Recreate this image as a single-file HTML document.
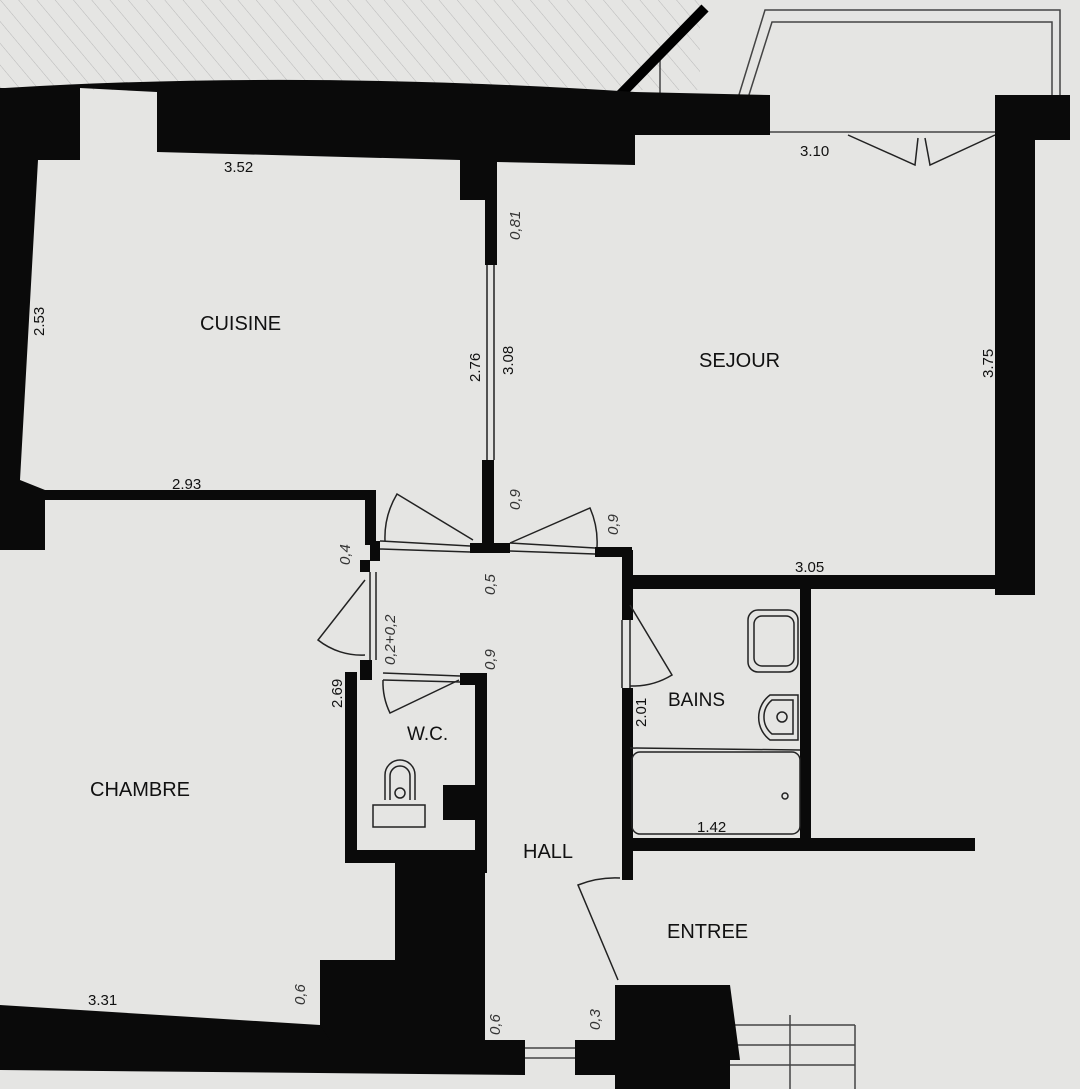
<!DOCTYPE html>
<html><head><style>
html,body{margin:0;padding:0;background:#e6e6e4;}
svg{display:block}
text{font-family:"Liberation Sans",sans-serif;fill:#111}
</style></head><body>
<svg width="1080" height="1089" viewBox="0 0 1080 1089" xmlns="http://www.w3.org/2000/svg">
<defs>
<pattern id="h" width="14" height="14" patternUnits="userSpaceOnUse" patternTransform="rotate(-40)">
<line x1="0" y1="0" x2="0" y2="14" stroke="#b8b8b8" stroke-width="1"/></pattern>
</defs>
<rect width="1080" height="1089" fill="#e5e5e3"/>
<rect x="0" y="0" width="700" height="90" fill="url(#h)"/>
<g stroke="#444" fill="none" stroke-width="1.5">
<polyline points="738,98 765,10 1060,10 1060,98"/>
<polyline points="748,98 772,22 1052,22 1052,98"/>
<line x1="770" y1="132" x2="995" y2="132"/>
<line x1="660" y1="60" x2="660" y2="95"/>
<line x1="730" y1="1025" x2="855" y2="1025"/><line x1="730" y1="1045" x2="855" y2="1045"/><line x1="730" y1="1065" x2="855" y2="1065"/>
<line x1="855" y1="1025" x2="855" y2="1089"/><line x1="790" y1="1015" x2="790" y2="1089"/>
<line x1="525" y1="1048" x2="575" y2="1048"/><line x1="525" y1="1058" x2="575" y2="1058"/>
</g>
<line x1="620" y1="95" x2="705" y2="8" stroke="#000" stroke-width="10"/>
<g fill="#0a0a0a">
<path d="M5,88 Q300,70 635,92 L770,95 L770,135 L635,135 L635,165 L497,162 L497,200 L460,200 L460,160 L157,152 L157,92 L80,88 L80,160 L38,160 L20,480 L45,490 L45,550 L0,550 L0,88Z"/>
<rect x="995" y="95" width="75" height="45"/>
<rect x="995" y="95" width="40" height="500"/>
<rect x="485" y="195" width="12" height="70"/>
<rect x="482" y="460" width="12" height="90"/>
<rect x="15" y="490" width="360" height="10"/>
<rect x="365" y="490" width="11" height="55"/>
<rect x="370" y="541" width="10" height="20"/>
<rect x="470" y="543" width="40" height="10"/>
<rect x="595" y="547" width="37" height="10"/>
<rect x="622" y="550" width="11" height="70"/>
<rect x="622" y="688" width="11" height="192"/>
<rect x="625" y="575" width="410" height="14"/>
<rect x="800" y="585" width="11" height="255"/>
<rect x="625" y="838" width="350" height="13"/>
<rect x="360" y="560" width="10" height="12"/>
<rect x="360" y="660" width="12" height="20"/>
<rect x="345" y="672" width="12" height="190"/>
<rect x="460" y="673" width="27" height="12"/>
<rect x="475" y="673" width="12" height="200"/>
<rect x="345" y="850" width="140" height="13"/>
<rect x="443" y="785" width="32" height="35"/>
<path d="M395,860 L485,860 L485,1040 L320,1040 L320,960 L395,960Z"/>
<path d="M0,1005 L320,1025 L330,1040 L485,1040 L525,1040 L525,1075 L0,1070Z"/>
<rect x="575" y="1040" width="45" height="35"/>
<path d="M615,985 L730,985 L740,1060 L730,1060 L730,1089 L615,1089Z"/>
</g>
<g stroke="#222" stroke-width="1.5" fill="none">
<line x1="487" y1="265" x2="487" y2="460"/><line x1="494" y1="265" x2="494" y2="460"/>
<line x1="380" y1="541" x2="470" y2="546"/><line x1="380" y1="549" x2="470" y2="552"/>
<line x1="510" y1="543" x2="595" y2="548"/><line x1="510" y1="551" x2="595" y2="554"/>
<line x1="370" y1="572" x2="370" y2="660"/><line x1="376" y1="572" x2="376" y2="660"/>
<line x1="622" y1="620" x2="622" y2="688"/><line x1="630" y1="620" x2="630" y2="688"/>
<line x1="383" y1="673" x2="460" y2="676"/><line x1="383" y1="680" x2="460" y2="682"/>
<path d="M473,540 L397,494 A85,85 0 0 0 385,541"/>
<path d="M510,543 L590,508 A85,85 0 0 1 597,547"/>
<path d="M365,580 L318,640 A70,70 0 0 0 365,655"/>
<path d="M630,605 L672,675 A75,75 0 0 1 630,686"/>
<path d="M459,680 L390,713 A70,70 0 0 1 383,680"/>
<path d="M618,980 L578,885 A100,100 0 0 1 620,878"/>
<path d="M848,135 L915,165 L918,138 M995,135 L930,165 L925,138"/>
<rect x="748" y="610" width="50" height="62" rx="10"/><rect x="754" y="616" width="40" height="50" rx="8"/>
<path d="M798,695 L770,695 A28,28 0 0 0 770,740 L798,740Z"/>
<path d="M793,700 L772,700 A22,22 0 0 0 772,734 L793,734Z"/><circle cx="782" cy="717" r="5"/>
<rect x="632" y="752" width="168" height="82" rx="8"/>
<line x1="630" y1="748" x2="800" y2="750"/>
<circle cx="785" cy="796" r="3"/>
<path d="M385,800 L385,775 A15,15 0 0 1 415,775 L415,800"/>
<path d="M390,800 L390,776 A10,10 0 0 1 410,776 L410,800"/>
<circle cx="400" cy="793" r="5"/>
<rect x="373" y="805" width="52" height="22"/>
</g>
<g font-size="20">
<text x="200" y="330">CUISINE</text>
<text x="699" y="367">SEJOUR</text>
<text x="90" y="796">CHAMBRE</text>
<text x="407" y="740" font-size="19">W.C.</text>
<text x="668" y="706" font-size="19">BAINS</text>
<text x="523" y="858">HALL</text>
<text x="667" y="938">ENTREE</text>
</g>
<g font-size="15">
<text x="224" y="172">3.52</text>
<text x="800" y="156">3.10</text>
<text x="172" y="489">2.93</text>
<text x="795" y="572">3.05</text>
<text x="697" y="832">1.42</text>
<text x="88" y="1005">3.31</text>
<text transform="translate(993,378) rotate(-90)">3.75</text>
<text transform="translate(480,382) rotate(-90)">2.76</text>
<text transform="translate(513,375) rotate(-90)">3.08</text>
<text transform="translate(44,336) rotate(-90)">2.53</text>
<text transform="translate(342,708) rotate(-90)">2.69</text>
<text transform="translate(646,727) rotate(-90)">2.01</text>
</g>
<g font-size="15" font-style="italic">
<text transform="translate(520,240) rotate(-90)" style="fill:#333">0,81</text>
<text transform="translate(520,510) rotate(-90)" style="fill:#333">0,9</text>
<text transform="translate(618,535) rotate(-90)" style="fill:#333">0,9</text>
<text transform="translate(495,595) rotate(-90)" style="fill:#333">0,5</text>
<text transform="translate(495,670) rotate(-90)" style="fill:#333">0,9</text>
<text transform="translate(395,665) rotate(-90)" style="fill:#333">0,2+0,2</text>
<text transform="translate(500,1035) rotate(-90)" style="fill:#333">0,6</text>
<text transform="translate(600,1030) rotate(-90)" style="fill:#333">0,3</text>
<text transform="translate(305,1005) rotate(-90)" style="fill:#333">0,6</text>
<text transform="translate(350,565) rotate(-90)" style="fill:#333">0,4</text>
</g>
</svg>
</body></html>
